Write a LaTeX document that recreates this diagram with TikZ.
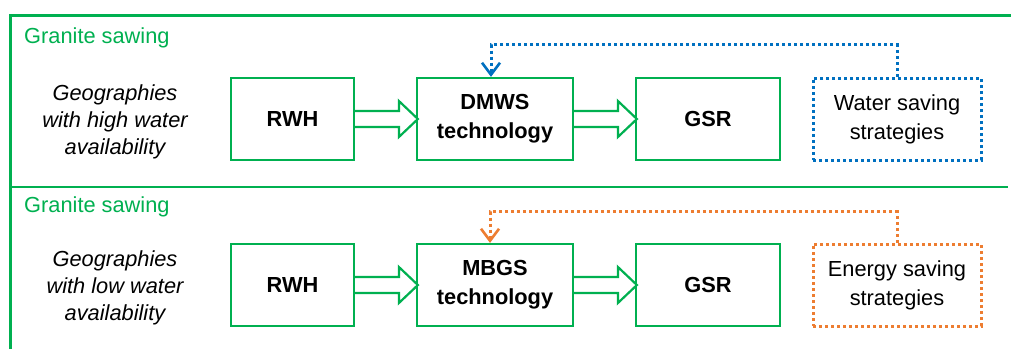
\documentclass[tikz,border=0pt]{standalone}
\usepackage{fontspec}
\setmainfont{Liberation Sans}
\usetikzlibrary{arrows.meta,calc}
\definecolor{pgreen}{RGB}{0,176,80}
\definecolor{pblue}{RGB}{0,112,192}
\definecolor{porange}{RGB}{237,125,49}
\tikzset{
  procbox/.style={draw=pgreen, line width=2.2pt, fill=white, align=center,
    inner sep=0pt, font=\fontsize{21.8}{29}\selectfont\bfseries},
  stratbox/.style={line width=3pt, dash pattern=on 3pt off 3pt, align=center,
    inner sep=0pt, font=\fontsize{21.8}{29}\selectfont},
  fatarrow/.style={draw=pgreen, line width=2.2pt, fill=white, line join=miter},
  feedback/.style={line width=3pt, dash pattern=on 3pt off 3pt,
    -{Straight Barb[length=12pt,width=18pt,line width=2.6pt]}},
  section/.style={text=pgreen, anchor=base west, inner sep=0pt,
    font=\fontsize{21.8}{28}\selectfont},
  geo/.style={align=center, inner sep=0pt,
    font=\fontsize{21.8}{27}\selectfont\itshape},
  frame/.style={draw=pgreen}
}
% block arrow from the east side of #1 to the west side of #2
\newcommand\fatarrow[2]{%
  \draw[fatarrow] let \p1=(#1.east), \p2=(#2.west) in
    (\x1,\y1+8pt) -- (\x2-17pt,\y1+8pt) -- (\x2-17pt,\y1+18pt) -- (\x2+2pt,\y1)
    -- (\x2-17pt,\y1-18pt) -- (\x2-17pt,\y1-8pt) -- (\x1,\y1-8pt);}
\begin{document}
\begin{tikzpicture}[x=1pt,y=-1pt]
\useasboundingbox (0,0) rectangle (1011,349);
% frame lines
\draw[frame, line width=3pt] (10.5,349) -- (10.5,15.3) -- (1011,15.3);
\draw[frame, line width=2pt] (10.5,187) -- (1008,187);

% upper section
\node[section] (sec1) at (24,43) {Granite sawing};
\node[geo] (geo1) at (115,122) {Geographies\\with high water\\availability};
\node[procbox, minimum width=123pt, minimum height=82pt] (rwh1) at (292.5,119) {RWH};
\node[procbox, minimum width=156pt, minimum height=82pt] (dmws) at (495,119) {DMWS\\technology};
\node[procbox, minimum width=144pt, minimum height=82pt] (gsr1) at (708,119) {GSR};
\node[stratbox, draw=pblue, minimum width=168pt, minimum height=82pt] (water) at (897,119) {Water saving\\strategies};
\fatarrow{rwh1}{dmws}
\fatarrow{dmws}{gsr1}
\draw[feedback, pblue] (water.north) -- ++(0,-32) -| ([xshift=-4pt]dmws.north);

% lower section
\node[section] (sec2) at (24,212) {Granite sawing};
\node[geo] (geo2) at (115,288) {Geographies\\with low water\\availability};
\node[procbox, minimum width=123pt, minimum height=82pt] (rwh2) at (292.5,285) {RWH};
\node[procbox, minimum width=156pt, minimum height=82pt] (mbgs) at (495,285) {MBGS\\technology};
\node[procbox, minimum width=144pt, minimum height=82pt] (gsr2) at (708,285) {GSR};
\node[stratbox, draw=porange, minimum width=168pt, minimum height=82pt] (energy) at (897,285) {Energy saving\\strategies};
\fatarrow{rwh2}{mbgs}
\fatarrow{mbgs}{gsr2}
\draw[feedback, porange] (energy.north) -- ++(0,-31) -| ([xshift=-5pt]mbgs.north);
\end{tikzpicture}
\end{document}
